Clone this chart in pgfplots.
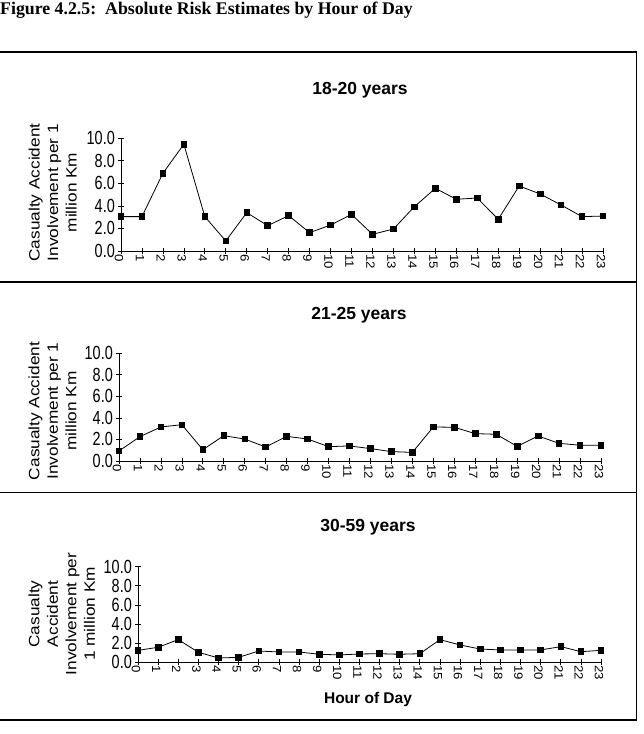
\documentclass[border=0pt]{standalone}
\usepackage{fontspec}
\setmainfont{Liberation Serif}
\newfontfamily\arial{Liberation Sans}
\newfontfamily\ytickfont[FakeStretch=0.76]{Liberation Sans}
\newfontfamily\ylabfont[FakeStretch=1.15]{Liberation Sans}
\newfontfamily\xtickfont[FakeStretch=1.1]{Liberation Sans}
\usepackage{pgfplots}
\usepackage{pgfplotstable}
\pgfplotsset{compat=1.18}

% Hourly risk estimates (casualty accident involvement per 1 million km)
\pgfplotstableread{
hour r1820 r2125 r3059
0  3.05 0.93 1.25
1  3.05 2.26 1.57
2  6.90 3.16 2.37
3  9.47 3.37 1.05
4  3.05 1.05 0.45
5  0.89 2.35 0.52
6  3.40 2.04 1.18
7  2.25 1.30 1.08
8  3.14 2.29 1.08
9  1.63 2.04 0.84
10 2.30 1.33 0.77
11 3.25 1.40 0.87
12 1.48 1.15 0.90
13 1.95 0.87 0.84
14 3.93 0.80 0.90
15 5.56 3.16 2.37
16 4.59 3.13 1.81
17 4.70 2.54 1.39
18 2.81 2.48 1.29
19 5.77 1.36 1.29
20 5.06 2.32 1.29
21 4.08 1.64 1.64
22 3.05 1.46 1.11
23 3.10 1.46 1.25
}\risktable

\pgfplotsset{
  panel/.style={
    scale only axis, anchor=south west, clip=false,
    axis x line=bottom, axis y line=left,
    axis line style={-, line width=0.8pt, black},
    xmin=0, xmax=23, ymin=0, ymax=10,
    xtick={0,...,23},
    xticklabels={0,1,2,3,4,5,6,7,8,9,10,11,12,13,14,15,16,17,18,19,20,21,22,23},
    ytick={0,2,4,6,8,10},
    yticklabels={0.0,2.0,4.0,6.0,8.0,10.0},
    tick align=center, major tick length=6pt,
    tick style={line width=0.7pt, black},
    xticklabel style={rotate=-90, anchor=west, inner sep=0pt, yshift=-2pt,
      font=\xtickfont\fontsize{12}{12}\selectfont},
    yticklabel style={anchor=east, inner sep=0pt, xshift=-3pt,
      font=\ytickfont\fontsize{19}{19}\selectfont},
  },
  riskline/.style={black, line width=0.8pt, mark=square*, mark size=2.8pt,
    mark options={solid, fill=black}},
}

\begin{document}
\begin{tikzpicture}[x=1pt,y=1pt]
\useasboundingbox (0,0) rectangle (644,734);

\node[anchor=base west, inner sep=0pt, font=\bfseries\fontsize{17.8}{20}\selectfont]
  at (0,719) {Figure 4.2.5:\ \ Absolute Risk Estimates by Hour of Day};

% frame and dividers
\draw[line width=1.2pt] (0,682) -- (636.5,682) -- (636.5,14) -- (0,14);
\draw[line width=1.2pt] (0,452) -- (636.5,452);
\draw[line width=1.2pt] (0,241.5) -- (636.5,241.5);

% 18-20 years
\begin{axis}[panel, at={(121pt,483pt)}, width=482pt, height=112.7pt]
\addplot[riskline] table[x=hour, y=r1820] {\risktable};
\end{axis}
\node[font=\arial\bfseries\fontsize{17.5}{20}\selectfont] at (360,644) {18-20 years};
\node[rotate=90, align=center, inner sep=0pt, font=\ylabfont\fontsize{15}{18.5}\selectfont]
  at (52.7,541.5) {Casualty Accident\\Involvement per 1\\million Km};

% 21-25 years
\begin{axis}[panel, at={(119pt,273pt)}, width=482pt, height=107.7pt]
\addplot[riskline] table[x=hour, y=r2125] {\risktable};
\end{axis}
\node[font=\arial\bfseries\fontsize{17.5}{20}\selectfont] at (359,419) {21-25 years};
\node[rotate=90, align=center, inner sep=0pt, font=\ylabfont\fontsize{15}{18.5}\selectfont]
  at (52.5,323) {Casualty Accident\\Involvement per 1\\million Km};

% 30-59 years
\begin{axis}[panel, at={(138pt,71.7pt)}, width=463pt, height=95.6pt]
\addplot[riskline] table[x=hour, y=r3059] {\risktable};
\end{axis}
\node[font=\arial\bfseries\fontsize{17.5}{20}\selectfont] at (368,207) {30-59 years};
\node[rotate=90, align=center, inner sep=0pt, font=\ylabfont\fontsize{15}{18.5}\selectfont]
  at (61.7,120) {Casualty\\Accident\\Involvement per\\1 million Km};
\node[font=\arial\bfseries\fontsize{15.5}{18}\selectfont] at (368,35) {Hour of Day};
\end{tikzpicture}
\end{document}
